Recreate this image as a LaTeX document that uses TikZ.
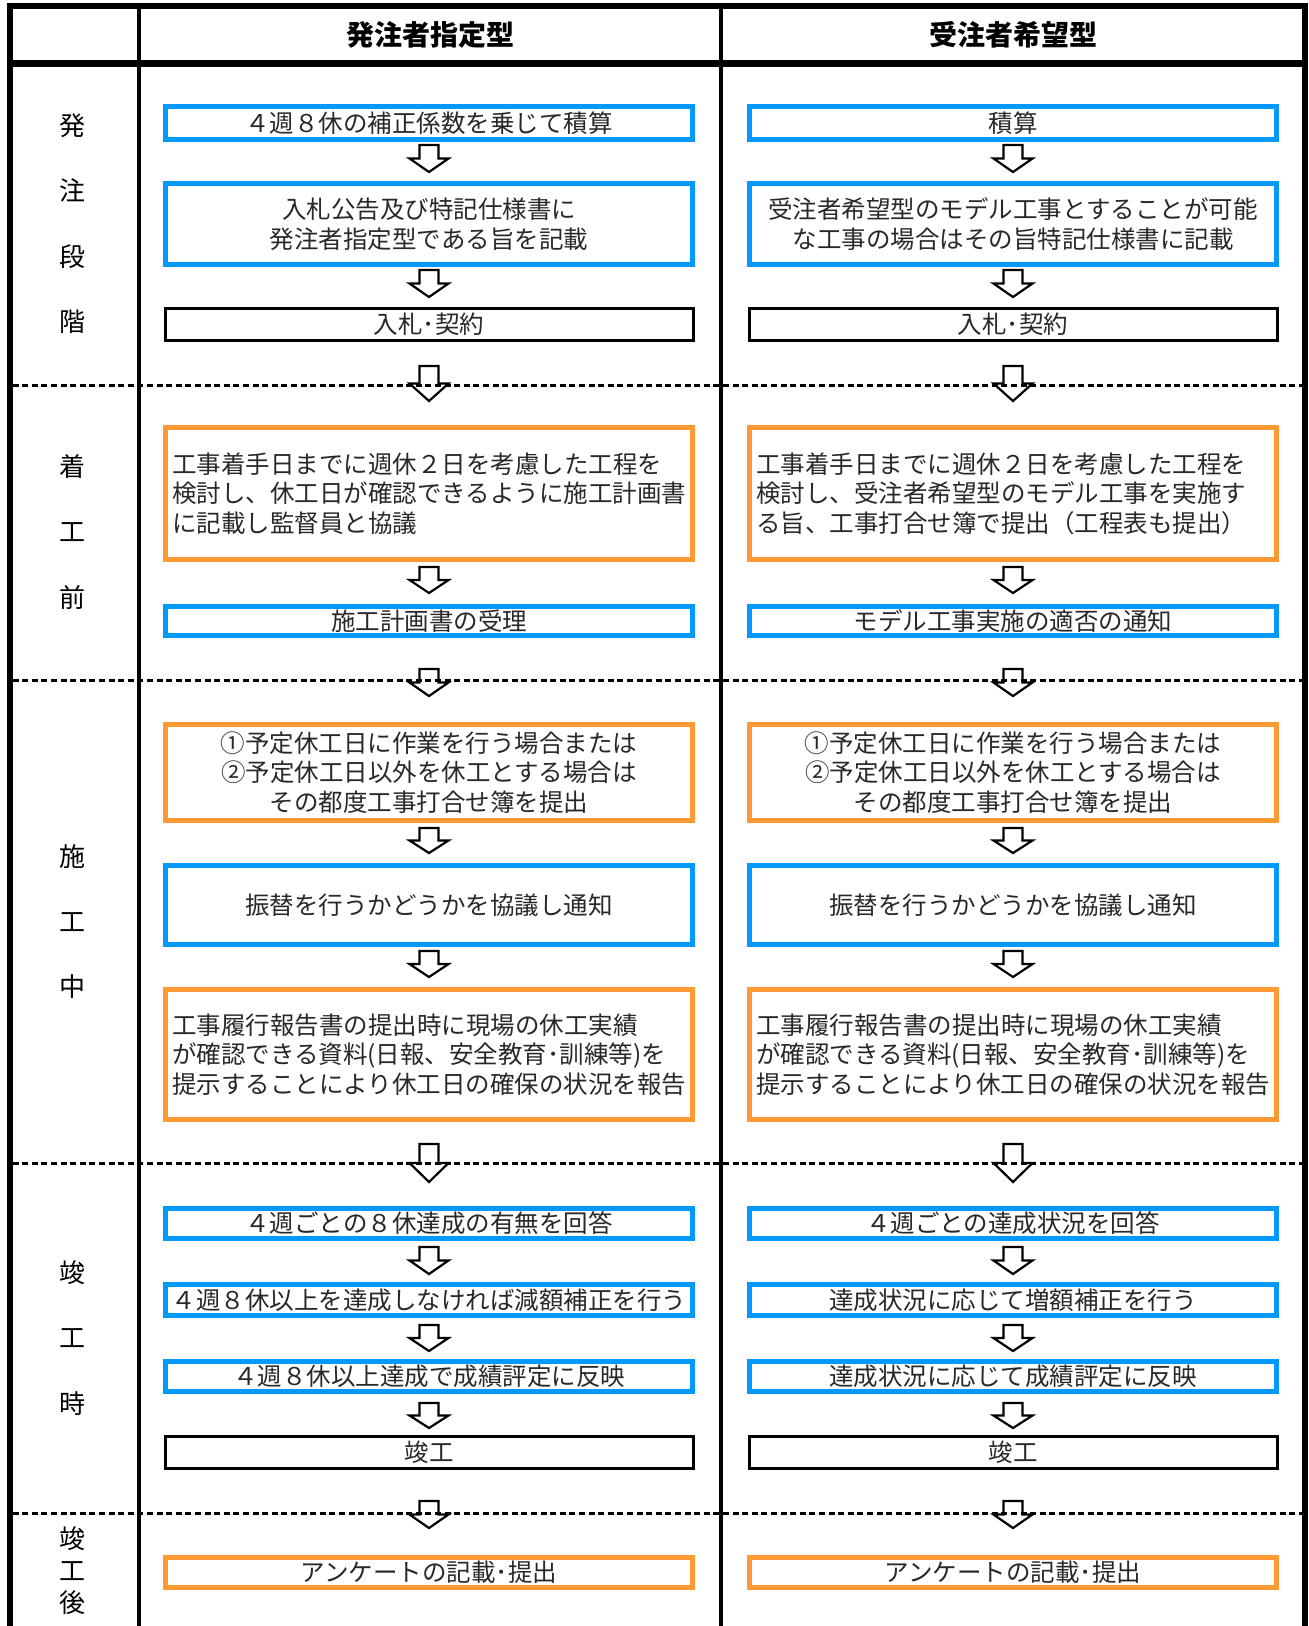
\documentclass[tikz,border=0pt]{standalone}
\usepackage{fontspec}
\setmainfont{Noto Sans CJK JP}
\usetikzlibrary{calc}
\definecolor{boxblue}{RGB}{0,153,255}
\definecolor{boxorange}{RGB}{255,153,51}
\definecolor{txt}{RGB}{40,40,40}
\newcommand\bodyfont{\fontsize{24.5}{29.5}\selectfont}
\newcommand\headfont{\fontsize{28}{32}\selectfont\bfseries}
\newcommand\sidefont{\fontsize{26}{65.3}\selectfont}
\newcommand\sidefontb{\fontsize{26}{32}\selectfont}
\tikzset{
  box/.style={draw, rectangle, inner sep=0pt, outer sep=0pt, minimum width=527pt, text=txt, font=\bodyfont, align=center},
  bluebox/.style={box, draw=boxblue, line width=5pt},
  orangebox/.style={box, draw=boxorange, line width=5pt},
  blackbox/.style={box, draw=black, line width=3pt, minimum width=528pt},
  lbox/.style={align=left, text width=514pt},
  headtext/.style={font=\headfont, text=black, inner sep=0pt},
  sidetext/.style={font=\sidefont, text=black, inner sep=0pt, align=center},
  sidetextb/.style={font=\sidefontb, text=black, inner sep=0pt, align=center},
  sepline/.style={line width=3pt, dash pattern=on 6pt off 3.6pt},
  blockarrow/.style={draw=black, line width=2.2pt, line join=miter},
}
% #1 upper node, #2 lower node, #3 gap below upper, #4 gap above lower
\newcommand\flowarrow[4]{%
  \draw[blockarrow] let \p1=(#1.south), \p2=(#2.north),
    \n1={\y1-#3}, \n2={\y2+#4}, \n3={(\n1+\n2)/2} in
    (\x1-9.5pt,\n1) -- (\x1+9.5pt,\n1) -- (\x1+9.5pt,\n3) -- (\x1+19.5pt,\n3)
    -- (\x1,\n2) -- (\x1-19.5pt,\n3) -- (\x1-9.5pt,\n3) -- cycle;}
\begin{document}
\begin{tikzpicture}[x=1pt,y=-1pt]
\useasboundingbox (0,0) rectangle (1309,1626);
\fill[white] (0,0) rectangle (1309,1626);
% frame and grid
\draw[line width=6pt, line join=miter] (9.5,1640) -- (9.5,6) -- (1305,6) -- (1305,1640);
\draw[line width=6.5pt] (9.5,63.5) -- (1305,63.5);
\draw[line width=4pt] (138.5,6) -- (138.5,1640);
\draw[line width=4pt] (721,6) -- (721,1640);
% stage separators
\draw[sepline] (12.5,385) -- (1302,385);
\draw[sepline] (12.5,680) -- (1302,680);
\draw[sepline] (12.5,1163) -- (1302,1163);
\draw[sepline] (12.5,1513) -- (1302,1513);
% headers
\node[headtext] (h1) at (430,35) {発注者指定型};
\node[headtext] (h2) at (1013,35) {受注者希望型};
% side labels
\node[sidetext] (s1) at (72.5,223.5) {発\\注\\段\\階};
\node[sidetext] (s2) at (72.5,532) {着\\工\\前};
\node[sidetext] (s3) at (72.5,921.5) {施\\工\\中};
\node[sidetext] (s4) at (72.5,1338) {竣\\工\\時};
\node[sidetextb] (s5) at (72.5,1571) {竣\\工\\後};
% ---------- left column ----------
\node[bluebox, minimum height=33pt] (La1) at (429,123) {４週８休の補正係数を乗じて積算};
\node[bluebox, minimum height=81pt] (La2) at (429,224) {入札公告及び特記仕様書に\\発注者指定型である旨を記載};
\node[blackbox, minimum height=32pt] (La3) at (429,324.5) {入札･契約};
\node[orangebox, minimum height=132pt, lbox] (Lb1) at (429,493.5) {工事着手日までに週休２日を考慮した工程を\\検討し、休工日が確認できるように施工計画書\\に記載し監督員と協議};
\node[bluebox, minimum height=29pt] (Lb2) at (429,621) {施工計画書の受理};
\node[orangebox, minimum height=96pt] (Lc1) at (429,772.5) {①予定休工日に作業を行う場合または\\②予定休工日以外を休工とする場合は\\その都度工事打合せ簿を提出};
\node[bluebox, minimum height=79pt] (Lc2) at (429,905) {振替を行うかどうかを協議し通知};
\node[orangebox, minimum height=130pt, lbox] (Lc3) at (429,1054.5) {工事履行報告書の提出時に現場の休工実績\\が確認できる資料(日報、安全教育･訓練等)を\\提示することにより休工日の確保の状況を報告};
\node[bluebox, minimum height=30pt] (Ld1) at (429,1223.5) {４週ごとの８休達成の有無を回答};
\node[bluebox, minimum height=31pt] (Ld2) at (429,1300) {４週８休以上を達成しなければ減額補正を行う};
\node[bluebox, minimum height=30pt] (Ld3) at (429,1376.5) {４週８休以上達成で成績評定に反映};
\node[blackbox, minimum height=32pt] (Ld4) at (429,1452.5) {竣工};
\node[orangebox, minimum height=30pt] (Le1) at (429,1572.5) {アンケートの記載･提出};
% ---------- right column ----------
\node[bluebox, minimum height=33pt] (Ra1) at (1013,123) {積算};
\node[bluebox, minimum height=81pt] (Ra2) at (1013,224) {受注者希望型のモデル工事とすることが可能\\な工事の場合はその旨特記仕様書に記載};
\node[blackbox, minimum height=32pt] (Ra3) at (1013,324.5) {入札･契約};
\node[orangebox, minimum height=132pt, lbox] (Rb1) at (1013,493.5) {工事着手日までに週休２日を考慮した工程を\\検討し、受注者希望型のモデル工事を実施す\\る旨、工事打合せ簿で提出（工程表も提出）};
\node[bluebox, minimum height=29pt] (Rb2) at (1013,621) {モデル工事実施の適否の通知};
\node[orangebox, minimum height=96pt] (Rc1) at (1013,772.5) {①予定休工日に作業を行う場合または\\②予定休工日以外を休工とする場合は\\その都度工事打合せ簿を提出};
\node[bluebox, minimum height=79pt] (Rc2) at (1013,905) {振替を行うかどうかを協議し通知};
\node[orangebox, minimum height=130pt, lbox] (Rc3) at (1013,1054.5) {工事履行報告書の提出時に現場の休工実績\\が確認できる資料(日報、安全教育･訓練等)を\\提示することにより休工日の確保の状況を報告};
\node[bluebox, minimum height=30pt] (Rd1) at (1013,1223.5) {４週ごとの達成状況を回答};
\node[bluebox, minimum height=31pt] (Rd2) at (1013,1300) {達成状況に応じて増額補正を行う};
\node[bluebox, minimum height=30pt] (Rd3) at (1013,1376.5) {達成状況に応じて成績評定に反映};
\node[blackbox, minimum height=32pt] (Rd4) at (1013,1452.5) {竣工};
\node[orangebox, minimum height=30pt] (Re1) at (1013,1572.5) {アンケートの記載･提出};
% ---------- arrows ----------
\foreach \c in {L,R}{
  \flowarrow{\c a1}{\c a2}{5.5pt}{11.5pt}
  \flowarrow{\c a2}{\c a3}{5.5pt}{11.5pt}
  \flowarrow{\c a3}{\c b1}{25.5pt}{26.5pt}
  \flowarrow{\c b1}{\c b2}{7.5pt}{13.5pt}
  \flowarrow{\c b2}{\c c1}{33.5pt}{28.5pt}
  \flowarrow{\c c1}{\c c2}{7.5pt}{12.5pt}
  \flowarrow{\c c2}{\c c3}{6.5pt}{12.5pt}
  \flowarrow{\c c3}{\c d1}{24.5pt}{26.5pt}
  \flowarrow{\c d1}{\c d2}{8.5pt}{10.5pt}
  \flowarrow{\c d2}{\c d3}{9.5pt}{10.5pt}
  \flowarrow{\c d3}{\c d4}{11.5pt}{8.5pt}
  \flowarrow{\c d4}{\c e1}{32.5pt}{29.5pt}
}
\end{tikzpicture}
\end{document}
